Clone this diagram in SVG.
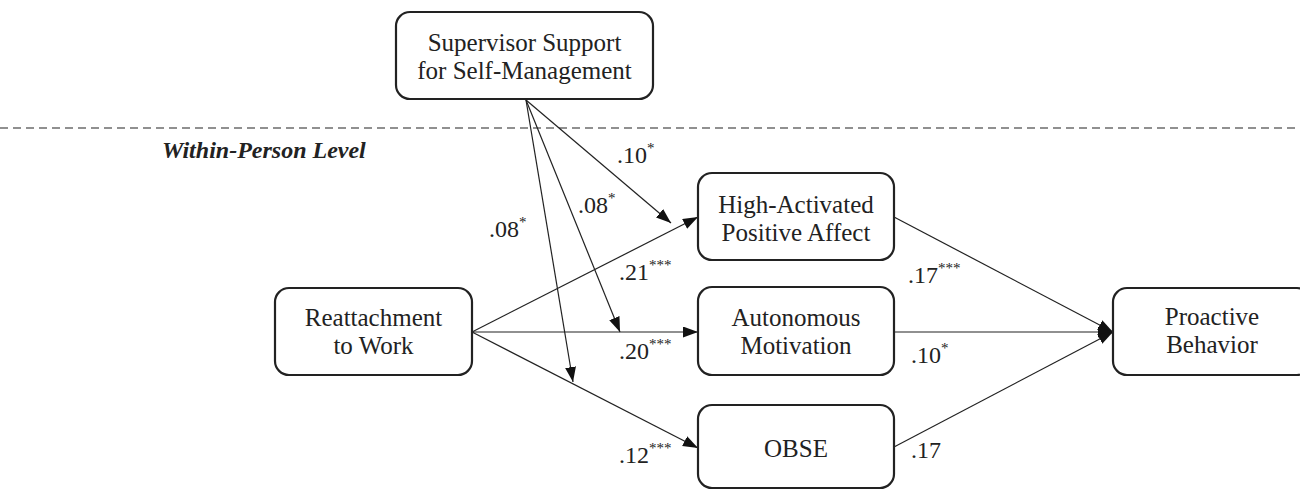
<svg xmlns="http://www.w3.org/2000/svg" width="1300" height="490" viewBox="0 0 1300 490">
<defs>
<style>
.box{fill:#fff;stroke:#222;stroke-width:2.2}
.t{font-family:"Liberation Serif","Times New Roman",serif;font-size:25px;fill:#222;text-anchor:middle}
.lab{font-family:"Liberation Serif","Times New Roman",serif;font-size:24px;fill:#222}
.sup{font-size:15px}
.ln{stroke:#222;stroke-width:1.2;fill:none}
</style>
<marker id="ah" markerUnits="userSpaceOnUse" markerWidth="16" markerHeight="12" refX="15" refY="5.5" orient="auto">
<path d="M0,0 L15,5.5 L0,11 z" fill="#111"/>
</marker>
</defs>
<rect width="1300" height="490" fill="#fff"/>
<line x1="0" y1="128" x2="1300" y2="128" stroke="#222" stroke-width="1.2" stroke-dasharray="8,5"/>
<text x="162" y="158" font-family="'Liberation Serif','Times New Roman',serif" font-size="24" font-weight="bold" font-style="italic" fill="#222">Within-Person Level</text>
<g id="connectors">
<line class="ln" x1="526" y1="100" x2="671" y2="223" marker-end="url(#ah)"/>
<line class="ln" x1="526" y1="100" x2="620" y2="332" marker-end="url(#ah)"/>
<line class="ln" x1="526" y1="100" x2="573" y2="382" marker-end="url(#ah)"/>
<line class="ln" x1="472" y1="332" x2="698" y2="217" marker-end="url(#ah)"/>
<line class="ln" x1="472" y1="332" x2="698" y2="332" marker-end="url(#ah)"/>
<line class="ln" x1="472" y1="332" x2="698" y2="448" marker-end="url(#ah)"/>
<line class="ln" x1="894" y1="217" x2="1113" y2="332" marker-end="url(#ah)"/>
<line class="ln" x1="894" y1="332" x2="1113" y2="332" marker-end="url(#ah)"/>
<line class="ln" x1="894" y1="447" x2="1113" y2="332" marker-end="url(#ah)"/>
</g>
<g id="labels">
<text class="lab" x="617" y="163">.10<tspan class="sup" dy="-10">*</tspan></text>
<text class="lab" x="578" y="213">.08<tspan class="sup" dy="-10">*</tspan></text>
<text class="lab" x="489" y="237">.08<tspan class="sup" dy="-10">*</tspan></text>
<text class="lab" x="619" y="280">.21<tspan class="sup" dy="-10">***</tspan></text>
<text class="lab" x="619" y="359">.20<tspan class="sup" dy="-10">***</tspan></text>
<text class="lab" x="619" y="463">.12<tspan class="sup" dy="-10">***</tspan></text>
<text class="lab" x="908" y="283">.17<tspan class="sup" dy="-10">***</tspan></text>
<text class="lab" x="911" y="363">.10<tspan class="sup" dy="-10">*</tspan></text>
<text class="lab" x="911" y="458">.17</text>
</g>
<g id="supervisor">
<rect class="box" x="396" y="12" width="257" height="87" rx="14"/>
<text class="t" x="524.5" y="51">Supervisor Support</text>
<text class="t" x="524.5" y="79">for Self-Management</text>
</g>
<g id="reattachment">
<rect class="box" x="275" y="288" width="197" height="87" rx="14"/>
<text class="t" x="373.5" y="326">Reattachment</text>
<text class="t" x="373.5" y="354">to Work</text>
</g>
<g id="hapa">
<rect class="box" x="698" y="173" width="196" height="87" rx="14"/>
<text class="t" x="796" y="213">High-Activated</text>
<text class="t" x="796" y="241">Positive Affect</text>
</g>
<g id="autonomous">
<rect class="box" x="698" y="287" width="196" height="88" rx="14"/>
<text class="t" x="796" y="326">Autonomous</text>
<text class="t" x="796" y="354">Motivation</text>
</g>
<g id="obse">
<rect class="box" x="698" y="405" width="196" height="83" rx="14"/>
<text class="t" x="796" y="457">OBSE</text>
</g>
<g id="proactive">
<rect class="box" x="1113" y="288" width="198" height="87" rx="14"/>
<text class="t" x="1212" y="325">Proactive</text>
<text class="t" x="1212" y="353">Behavior</text>
</g>
</svg>
